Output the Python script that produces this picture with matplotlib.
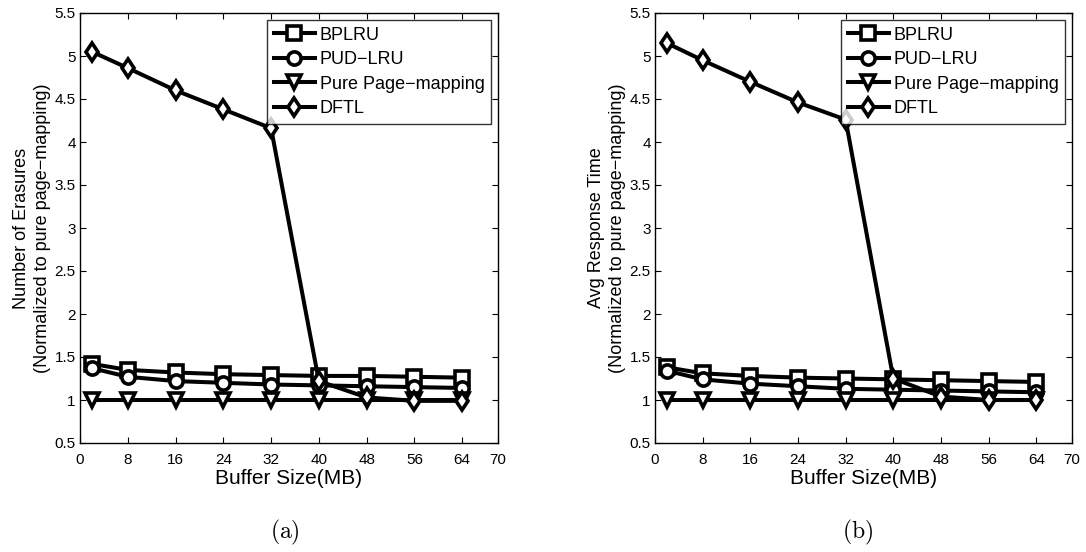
import matplotlib
matplotlib.use("Agg")
import matplotlib.pyplot as plt

plt.rcParams['font.family'] = ['Liberation Sans', 'DejaVu Sans']
plt.rcParams['mathtext.fontset'] = 'cm'

# buffer sizes (MB)
buffer_mb = [2, 8, 16, 24, 32, 40, 48, 56, 64]

# (a) number of erasures, normalized to pure page-mapping
erase_bplru = [1.42, 1.35, 1.32, 1.30, 1.29, 1.28, 1.28, 1.27, 1.26]
erase_pudlru = [1.37, 1.27, 1.22, 1.20, 1.18, 1.17, 1.16, 1.15, 1.14]
erase_pure = [1.0, 1.0, 1.0, 1.0, 1.0, 1.0, 1.0, 1.0, 1.0]
erase_dftl = [5.05, 4.86, 4.60, 4.38, 4.16, 1.22, 1.03, 0.99, 0.99]

# (b) avg response time, normalized to pure page-mapping
resp_bplru = [1.38, 1.31, 1.28, 1.26, 1.25, 1.24, 1.23, 1.22, 1.21]
resp_pudlru = [1.34, 1.24, 1.19, 1.16, 1.13, 1.12, 1.11, 1.10, 1.09]
resp_pure = [1.0, 1.0, 1.0, 1.0, 1.0, 1.0, 1.0, 1.0, 1.0]
resp_dftl = [5.15, 4.95, 4.70, 4.46, 4.26, 1.25, 1.04, 1.00, 1.00]

labels = ['BPLRU', 'PUD\u2212LRU', 'Pure Page\u2212mapping', 'DFTL']
markers = ['s', 'o', 'v', 'd']
xticks = [0, 8, 16, 24, 32, 40, 48, 56, 64, 70]
yticks = [0.5, 1, 1.5, 2, 2.5, 3, 3.5, 4, 4.5, 5, 5.5]
ytick_labels = ['0.5', '1', '1.5', '2', '2.5', '3', '3.5', '4', '4.5', '5', '5.5']


def panel(ax, series, ylabel):
    for y, lab, m in zip(series, labels, markers):
        ax.plot(buffer_mb, y, color='black', linewidth=2.9, marker=m,
                markersize=9.5, markerfacecolor='white', markeredgewidth=2.6,
                label=lab)
    ax.set_xlim(0, 70)
    ax.set_ylim(0.5, 5.5)
    ax.set_xticks(xticks)
    ax.set_yticks(yticks)
    ax.set_yticklabels(ytick_labels)
    ax.tick_params(direction='in', top=True, right=True, labelsize=11, length=4)
    ax.tick_params(axis='x', pad=7)
    ax.tick_params(axis='y', pad=3)
    for s in ax.spines.values():
        s.set_linewidth(1.0)
    ax.set_xlabel('Buffer Size(MB)', fontsize=15, labelpad=2)
    ax.set_ylabel(ylabel, fontsize=13, labelpad=3, linespacing=1.25)
    leg = ax.legend(loc='upper right', fontsize=13, frameon=True, fancybox=False,
                    edgecolor='black', handlelength=2.3, handletextpad=0.25,
                    borderpad=0.35, labelspacing=0.42, borderaxespad=0.4)
    leg.get_frame().set_linewidth(1.0)


fig = plt.figure(figsize=(10.86, 5.52), dpi=100)
ax1 = fig.add_axes([80 / 1086, 109 / 552, 418 / 1086, 430 / 552])
ax2 = fig.add_axes([655 / 1086, 109 / 552, 417 / 1086, 430 / 552])

panel(ax1, [erase_bplru, erase_pudlru, erase_pure, erase_dftl],
      'Number of Erasures\n(Normalized to pure page\u2212mapping)')
panel(ax2, [resp_bplru, resp_pudlru, resp_pure, resp_dftl],
      'Avg Response Time\n(Normalized to pure page\u2212mapping)')

fig.text(285 / 1086, 1 - 532 / 552, r'$\mathrm{(a)}$', ha='center', va='center', fontsize=17)
fig.text(858 / 1086, 1 - 532 / 552, r'$\mathrm{(b)}$', ha='center', va='center', fontsize=17)

fig.savefig('out.png', dpi=100)
